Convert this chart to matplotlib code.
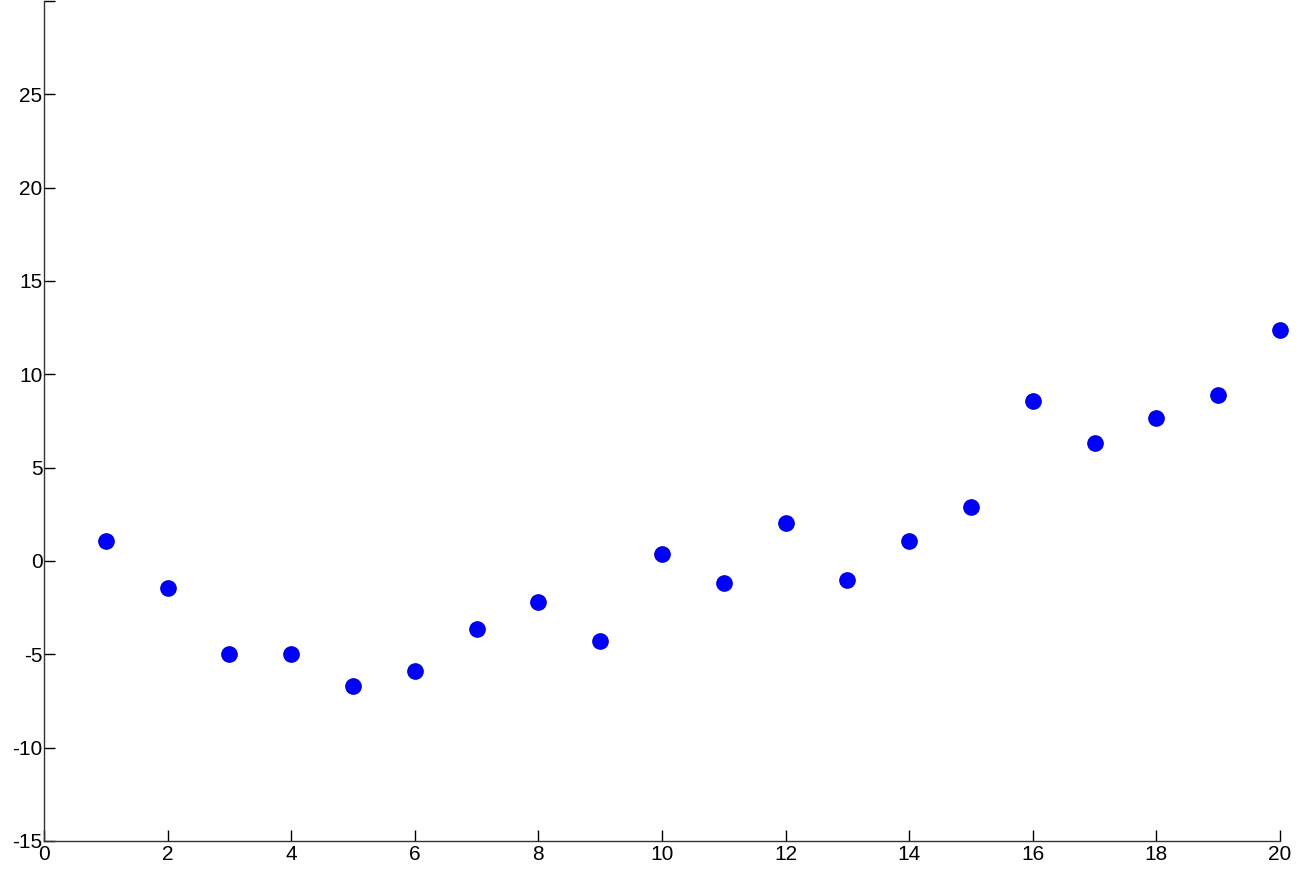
import numpy as np
import matplotlib.pyplot as plt

x = np.arange(1, 21)
y = [1.07, -1.44, -5.0, -5.0, -6.67, -5.87, -3.62, -2.18, -4.27, 0.38,
     -1.17, 2.04, -1.01, 1.07, 2.89, 8.55, 6.31, 7.64, 8.87, 12.40]

x_ticks = list(range(0, 21, 2))
y_ticks = list(range(-15, 31, 5))
y_labels = [str(v) for v in y_ticks[:-1]] + ['']

plt.rcParams['font.family'] = ['Liberation Sans', 'DejaVu Sans']

fig = plt.figure(figsize=(13.08, 8.83), dpi=100)
ax = fig.add_axes([44 / 1308, 42 / 883, 1236 / 1308, 840 / 883])
ax.plot(x, y, 'o', color='#0000ff', markeredgecolor='#0000dd', markersize=11, clip_on=False)

ax.set_xlim(0, 20)
ax.set_ylim(-15, 30)
ax.set_xticks(x_ticks)
ax.set_yticks(y_ticks)
ax.set_yticklabels(y_labels)
ax.tick_params(direction='in', length=8, width=1, labelsize=15, colors='black')
ax.tick_params(axis='x', pad=3)
ax.tick_params(axis='y', pad=1)
ax.spines['top'].set_visible(False)
ax.spines['right'].set_visible(False)
for s in ('left', 'bottom'):
    ax.spines[s].set_color('#333333')
    ax.spines[s].set_linewidth(1)

fig.savefig('out.png', dpi=100)
